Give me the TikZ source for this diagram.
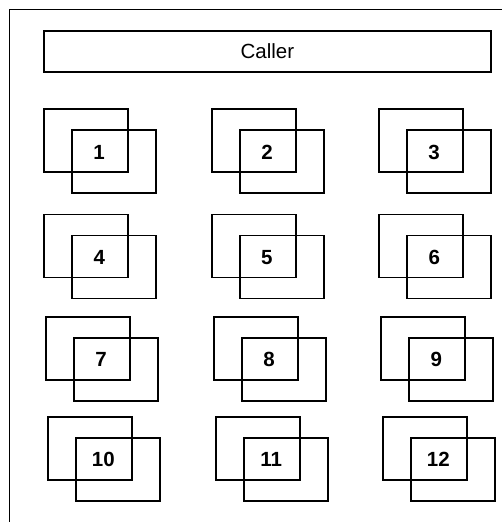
\documentclass[tikz,border=0pt]{standalone}
\usepackage{fontspec}
\setmainfont{Liberation Sans}
\begin{document}
\begin{tikzpicture}[x=1pt,y=-1pt,
  frame/.style={draw=black,line width=1.4pt},
  callerbox/.style={draw,line width=1.7pt,minimum width=447pt,minimum height=41pt,inner sep=0pt,anchor=north west,font=\fontsize{20.5}{24}\selectfont},
  sq/.style={draw,line width=1.9pt,minimum width=84pt,minimum height=63pt,inner sep=0pt,anchor=north west},
  num/.style={font=\fontsize{20.5}{24}\selectfont\bfseries,inner sep=0pt}]
\useasboundingbox (0,0) rectangle (501,522);
\draw[frame] (9.5,530) -- (9.5,9.5) -- (510,9.5);
\node[callerbox] (caller) at (43,30) {Caller};
\foreach \n/\bx/\by in {1/43/108, 2/211/108, 3/378/108,
                        4/43.3/213.5, 5/210.7/213.5, 6/378.3/213.5,
                        7/45/315.7, 8/213/315.7, 9/380.3/315.7,
                        10/47.3/415.7, 11/215.3/415.7, 12/382.3/415.7}{
  \node[sq] (back\n) at (\bx,\by) {};
  \node[sq] (front\n) at ([shift={(28,21)}]back\n.north west) {};
  \node[num] (lab\n) at ([shift={(56,44)}]back\n.north west) {\n};
}
\end{tikzpicture}
\end{document}
